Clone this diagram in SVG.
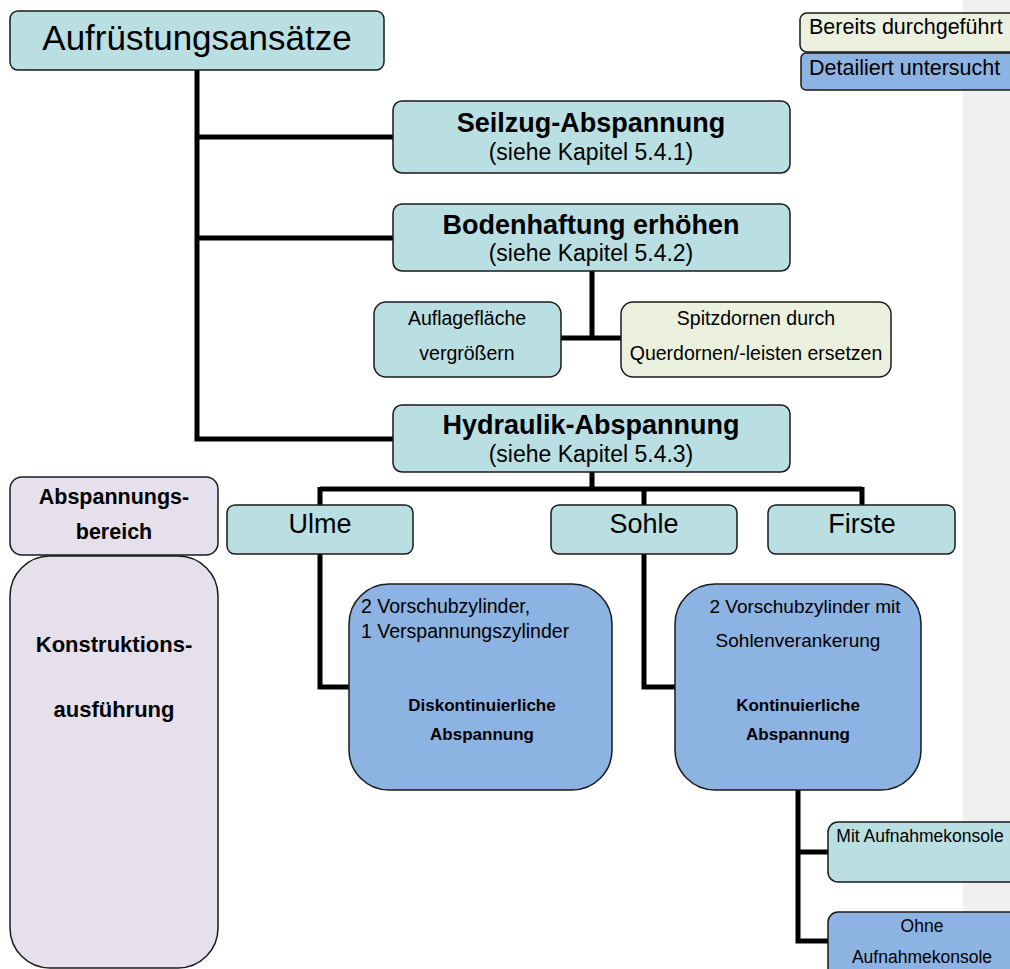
<svg xmlns="http://www.w3.org/2000/svg" width="1010" height="969" viewBox="0 0 1010 969">
<style>
text{font-family:"Liberation Sans",Arial,sans-serif;fill:#000;text-anchor:middle}
.b{font-weight:bold}
.l{text-anchor:start}
rect{stroke:#1a1a1a;stroke-width:1.5}
.cy{fill:#b9dfe3}
.gr{fill:#ebf1de}
.bl{fill:#8db3e2}
.lv{fill:#e5e0ec}
.con path{fill:none;stroke:#000;stroke-width:5}
</style>
<rect x="963" y="0" width="47" height="969" fill="#f0f0f0" style="stroke:none"/>
<g class="con">
<path d="M197 70V439H393M197 137H393M197 238H393"/>
<path d="M592 271V338M561 338H621"/>
<path d="M592 472V489M320 489H862M320 487V505M644 489V505M862 487V505"/>
<path d="M320 554V687H349M644 554V687H675"/>
<path d="M798 790V941H828M798 852H828"/>
</g>
<g id="n-root"><rect class="cy" x="10" y="11" width="374" height="59" rx="8"/><text x="197" y="50" font-size="35">Aufrüstungsansätze</text></g>
<g id="n-legend1"><rect class="gr" x="800" y="13" width="220" height="39" rx="7"/><text class="l" x="809" y="34" font-size="21.5">Bereits durchgeführt</text></g>
<g id="n-legend2"><rect class="bl" x="801" y="53" width="220" height="37" rx="5"/><text class="l" x="809" y="75" font-size="21.5">Detailiert untersucht</text></g>
<g id="n-seilzug"><rect class="cy" x="393" y="101" width="397" height="72" rx="9"/><text class="b" x="591" y="132" font-size="27">Seilzug-Abspannung</text><text x="591" y="160" font-size="23">(siehe Kapitel 5.4.1)</text></g>
<g id="n-boden"><rect class="cy" x="393" y="204" width="397" height="67" rx="9"/><text class="b" x="591" y="234" font-size="27">Bodenhaftung erhöhen</text><text x="591" y="261" font-size="23">(siehe Kapitel 5.4.2)</text></g>
<g id="n-auflage"><rect class="cy" x="374" y="302" width="187" height="75" rx="12"/><text x="467" y="325" font-size="19.5">Auflagefläche</text><text x="467" y="360" font-size="19.5">vergrößern</text></g>
<g id="n-spitz"><rect class="gr" x="621" y="302" width="270" height="75" rx="12"/><text x="756" y="325" font-size="19.5">Spitzdornen durch</text><text x="756" y="360" font-size="19.5">Querdornen/-leisten ersetzen</text></g>
<g id="n-hydraulik"><rect class="cy" x="393" y="405" width="397" height="67" rx="9"/><text class="b" x="591" y="434" font-size="27">Hydraulik-Abspannung</text><text x="591" y="462" font-size="23">(siehe Kapitel 5.4.3)</text></g>
<g id="n-bereich"><rect class="lv" x="10" y="477" width="208" height="78" rx="12"/><text class="b" x="114" y="504" font-size="21.5">Abspannungs-</text><text class="b" x="114" y="539" font-size="21.5">bereich</text></g>
<g id="n-konstr"><rect class="lv" x="10" y="556" width="208" height="412" rx="40"/><text class="b" x="114" y="652" font-size="22">Konstruktions-</text><text class="b" x="114" y="717" font-size="22">ausführung</text></g>
<g id="n-ulme"><rect class="cy" x="227" y="505" width="186" height="49" rx="8"/><text x="320" y="533" font-size="27">Ulme</text></g>
<g id="n-sohle"><rect class="cy" x="551" y="505" width="186" height="49" rx="8"/><text x="644" y="533" font-size="27">Sohle</text></g>
<g id="n-firste"><rect class="cy" x="768" y="505" width="187" height="49" rx="8"/><text x="862" y="533" font-size="27">Firste</text></g>
<g id="n-disk"><rect class="bl" x="349" y="584" width="263" height="206" rx="40"/><text class="l" x="361" y="613" font-size="19.5">2 Vorschubzylinder,</text><text class="l" x="361" y="638" font-size="19.5">1 Verspannungszylinder</text><text class="b" x="482" y="711" font-size="17">Diskontinuierliche</text><text class="b" x="482" y="740" font-size="17">Abspannung</text></g>
<g id="n-kont"><rect class="bl" x="675" y="584" width="246" height="206" rx="40"/><text x="805" y="613" font-size="19">2 Vorschubzylinder mit</text><text x="798" y="647" font-size="19">Sohlenverankerung</text><text class="b" x="798" y="711" font-size="17">Kontinuierliche</text><text class="b" x="798" y="740" font-size="17">Abspannung</text></g>
<g id="n-mit"><rect class="cy" x="828" y="822" width="195" height="60" rx="10"/><text x="920" y="842" font-size="17.5">Mit Aufnahmekonsole</text></g>
<g id="n-ohne"><rect class="bl" x="828" y="912" width="195" height="70" rx="10"/><text x="922" y="932" font-size="17.5">Ohne</text><text x="922" y="963" font-size="17.5">Aufnahmekonsole</text></g>
</svg>
